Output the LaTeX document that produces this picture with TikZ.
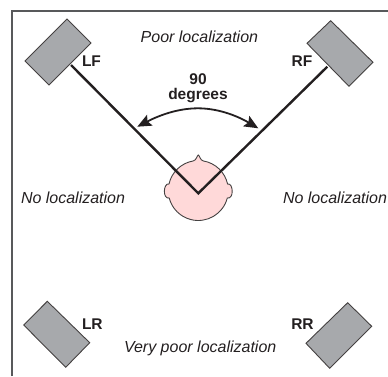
\documentclass[tikz,border=0pt]{standalone}
\usepackage{fontspec}
\setmainfont{Liberation Sans}
\usetikzlibrary{arrows.meta}
\definecolor{ink}{HTML}{231F20}
\definecolor{spk}{HTML}{A7A9AC}
\definecolor{skin}{HTML}{FFD9D9}
\definecolor{frame}{HTML}{58595B}
\tikzset{
  every node/.style={inner sep=0pt,outer sep=0pt,text=ink},
  speaker/.style={draw=ink!85,fill=spk,line width=0.9pt,line join=miter},
  note/.style={font=\fontsize{16}{19}\selectfont\itshape,anchor=base west},
  tag/.style={font=\fontsize{15.5}{18}\selectfont\bfseries,anchor=base west},
  boldc/.style={font=\fontsize{15.5}{18}\selectfont\bfseries,anchor=base},
  beam/.style={draw=ink,line width=2.4pt,line join=miter},
  sweep/.style={draw=ink,line width=1.8pt,{Stealth[length=14pt,width=12pt,inset=2.5pt]}-{Stealth[length=14pt,width=12pt,inset=2.5pt]}},
}
\begin{document}
\begin{tikzpicture}[x=1pt,y=-1pt]
\useasboundingbox (0,0) rectangle (388,376);
\draw[frame,line width=1.5pt] (12,376) -- (12,11) -- (388,11);
% speakers
\draw[speaker] (67,19) -- (91,43) -- (49,85) -- (25,61) -- cycle;
\draw[speaker] (330.7,20.7) -- (373,62.3) -- (349,86.3) -- (307,43.3) -- cycle;
\draw[speaker] (47.3,301.3) -- (89.7,342.7) -- (65.7,367.3) -- (23.7,325) -- cycle;
\draw[speaker] (347.7,302.7) -- (371.7,326.3) -- (329.7,368.3) -- (306,343.3) -- cycle;
% head
\begin{scope}[shift={(198.3,190.5)},y=1pt]
\draw[fill=skin,draw=ink!85,line width=0.9pt]
  (80.4:30) arc[start angle=80.4,end angle=12.5,radius=30pt]
  .. controls (35,8) and (36,-9) .. (29,-7.5)
  arc[start angle=-14.5,end angle=-165.5,radius=30pt]
  .. controls (-36,-9) and (-35,8) .. (-29.3,6.5)
  arc[start angle=167.5,end angle=99.6,radius=30pt]
  .. controls (-2,30) and (-1,35.5) .. (0,35.5)
  .. controls (1,35.5) and (2,30) .. (80.4:30) -- cycle;
\end{scope}
% beams
\coordinate (lfend) at (71,65);
\coordinate (rfend) at (327.3,66.7);
\coordinate (headv) at (198.3,193.3);
\draw[beam] (lfend) -- (headv) -- (rfend);
% sweep arrow
\coordinate (swl) at (137.3,126.7);
\coordinate (swt) at (198,108.3);
\coordinate (swr) at (258.3,128.3);
\draw[sweep] (swl) .. controls (155,117.5) and (175,108.3) .. (swt)
  .. controls (221,108.3) and (241,118) .. (swr);
% labels
\node[boldc] (n90) at (198,84.7) {90};
\node[boldc] (ndeg) at (198,99.3) {degrees};
\node[tag] (lf) at (82,66.7) {LF};
\node[tag] (rf) at (291.7,66.7) {RF};
\node[tag] (lr) at (82,329.3) {LR};
\node[tag] (rr) at (291.3,329.3) {RR};
\node[note] (poor) at (140.7,42.7) {Poor localization};
\node[note] (nol) at (21,203) {No localization};
\node[note] (nor) at (283,203) {No localization};
\node[note] (vpoor) at (124,352.7) {Very poor localization};
\end{tikzpicture}
\end{document}
